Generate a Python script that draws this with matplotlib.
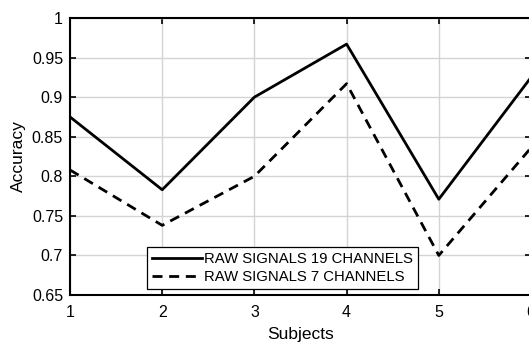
import matplotlib
matplotlib.use("Agg")
import matplotlib.pyplot as plt

plt.rcParams['font.family'] = ['Liberation Sans', 'DejaVu Sans']

subjects = [1, 2, 3, 4, 5, 6]
acc_19ch = [0.875, 0.783, 0.900, 0.967, 0.771, 0.925]
acc_7ch = [0.808, 0.738, 0.800, 0.917, 0.700, 0.836]
legend_labels = ['RAW SIGNALS 19 CHANNELS', 'RAW SIGNALS 7 CHANNELS']
yticks = [0.65, 0.7, 0.75, 0.8, 0.85, 0.9, 0.95, 1]

fig = plt.figure(figsize=(5.29, 3.44), dpi=100)
ax = fig.add_axes([70 / 529, 49 / 344, 461 / 529, 277 / 344])

ax.plot(subjects, acc_19ch, color='black', lw=2.0, label=legend_labels[0])
ax.plot(subjects, acc_7ch, color='black', lw=2.0, ls=(0, (3.6, 2.4)), label=legend_labels[1])

ax.set_xlim(1, 6)
ax.set_ylim(0.65, 1)
ax.set_xticks(subjects)
ax.set_yticks(yticks)
ax.set_yticklabels(['%g' % v for v in yticks])
ax.grid(True, color='#d4d4d4', lw=1.0)
ax.set_axisbelow(True)
ax.tick_params(direction='in', top=True, right=True, labelsize=11.5, length=4, width=1.2, pad=5)
ax.tick_params(axis='x', pad=7)
for s in ax.spines.values():
    s.set_linewidth(1.5)

ax.set_xlabel('Subjects', fontsize=12.5, labelpad=5)
ax.set_ylabel('Accuracy', fontsize=12.5, labelpad=4)

leg = ax.legend(loc='lower left', bbox_to_anchor=(147 / 529, 55 / 344),
                bbox_transform=fig.transFigure, fontsize=10.7, fancybox=False,
                framealpha=1, edgecolor='black', handlelength=3.4,
                handletextpad=0.12, borderpad=0.33, labelspacing=0.28, borderaxespad=0)
leg.get_frame().set_linewidth(0.9)

fig.savefig('out.png', dpi=100)
